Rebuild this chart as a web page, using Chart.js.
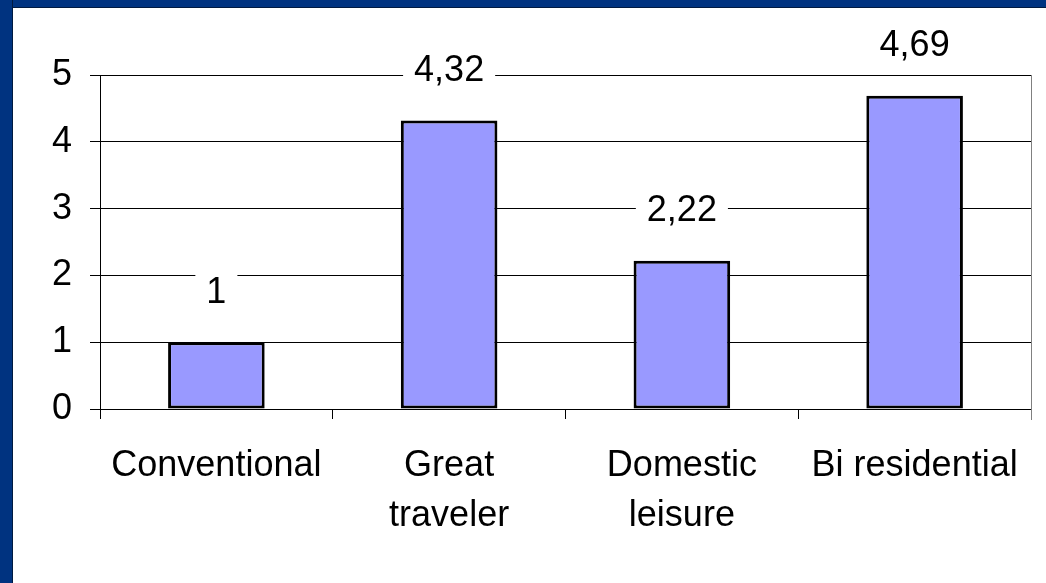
<!DOCTYPE html>
<html>
<head>
<meta charset="utf-8">
<script src="https://cdn.jsdelivr.net/npm/chart.js@4/dist/chart.umd.min.js"></script>
<style>
  html, body { margin: 0; padding: 0; background: #ffffff; width: 1046px; height: 583px; overflow: hidden; }
  #wrap { position: relative; width: 1046px; height: 583px; }
  canvas { position: absolute; left: 0; top: 0; }
  .bar-top { position: absolute; left: 0; top: 0; width: 1046px; height: 7px; background: #003380; border-bottom: 1px solid #001a40; box-sizing: content-box; }
  .bar-left { position: absolute; left: 0; top: 0; width: 12px; height: 583px; background: #003380; border-right: 1px solid #001a40; }
</style>
</head>
<body>
<div id="wrap">
  <canvas id="c" width="1046" height="583"></canvas>
  <div class="bar-top"></div>
  <div class="bar-left"></div>
</div>
<script>
const categories = [["Conventional"], ["Great", "traveler"], ["Domestic", "leisure"], ["Bi residential"]];
const values = [1, 4.32, 2.22, 4.69];
const yTicks = [0, 1, 2, 3, 4, 5];

const FONT = "'Liberation Sans', Arial, sans-serif";

const valueLabels = {
  id: 'valueLabels',
  afterDatasetsDraw(chart) {
    const ctx = chart.ctx;
    const meta = chart.getDatasetMeta(0);
    ctx.save();
    ctx.font = "36px " + FONT;
    ctx.textAlign = 'center';
    ctx.textBaseline = 'middle';
    meta.data.forEach((bar, i) => {
      const txt = String(values[i]).replace('.', ',');
      const w = ctx.measureText(txt).width + 22;
      const cy = bar.y - 49.5;
      ctx.fillStyle = '#ffffff';
      ctx.fillRect(bar.x - w / 2, cy - 20, w, 40);
      ctx.fillStyle = '#000000';
      ctx.fillText(txt, bar.x, cy);
    });
    ctx.restore();
  },
  afterDraw(chart) {
    const a = chart.chartArea;
    const ctx = chart.ctx;
    ctx.save();
    ctx.strokeStyle = '#808080';
    ctx.lineWidth = 1;
    ctx.beginPath();
    ctx.moveTo(Math.round(a.right) + 0.5, a.top);
    ctx.lineTo(Math.round(a.right) + 0.5, a.bottom + 11);
    ctx.stroke();
    ctx.restore();
  }
};

new Chart(document.getElementById('c'), {
  type: 'bar',
  data: {
    labels: categories,
    datasets: [{
      data: values,
      backgroundColor: '#9999ff',
      borderColor: '#000000',
      borderWidth: 3,
      borderSkipped: false,
      barPercentage: 0.415,
      categoryPercentage: 1.0
    }]
  },
  options: {
    responsive: false,
    animation: false,
    devicePixelRatio: 1,
    layout: { padding: { left: 0, top: 75, right: 15, bottom: 0 } },
    plugins: { legend: { display: false }, tooltip: { enabled: false } },
    scales: {
      x: {
        offset: true,
        grid: { display: true, drawOnChartArea: false, drawTicks: true, tickLength: 10, color: '#000000', lineWidth: 1, offset: true },
        border: { display: true, color: '#000000', width: 1 },
        ticks: {
          color: '#000000',
          font: { family: FONT, size: 36, lineHeight: 50 / 36 },
          padding: 22,
          maxRotation: 0,
          minRotation: 0,
          autoSkip: false
        },
        afterFit(scale) { scale.height = 583 - 409; }
      },
      y: {
        min: 0,
        max: 5,
        afterBuildTicks(scale) { scale.ticks = yTicks.map(v => ({ value: v })); },
        grid: { display: true, drawOnChartArea: true, drawTicks: true, tickLength: 10, color: '#000000', lineWidth: 1 },
        border: { display: true, color: '#000000', width: 1 },
        ticks: {
          color: '#000000',
          font: { family: FONT, size: 36 },
          padding: 18,
          stepSize: 1
        },
        afterFit(scale) { scale.width = 100; }
      }
    }
  },
  plugins: [valueLabels]
});
</script>
</body>
</html>
